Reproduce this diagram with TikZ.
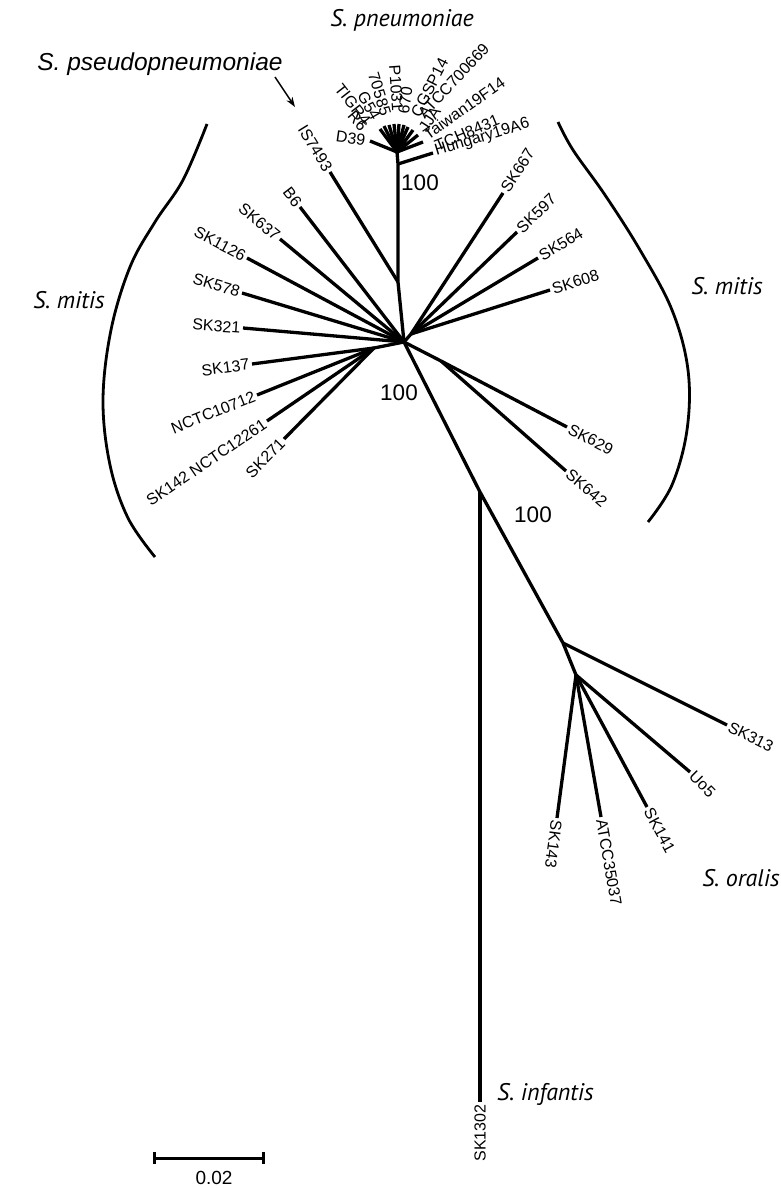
\documentclass[tikz,border=0pt]{standalone}
\usepackage{fontspec}
\setmainfont{Liberation Sans}
\newfontfamily\spfont{PT Sans}
\usetikzlibrary{arrows.meta}
\begin{document}
\begin{tikzpicture}[x=1pt,y=-1pt,
  br/.style={line width=3.3pt, line join=round},
  lab/.style={font=\fontsize{16}{18}\selectfont, inner sep=2.5pt},
  boot/.style={font=\fontsize{22.5}{24}\selectfont, inner sep=0pt},
  sp/.style={font=\spfont\itshape\fontsize{24}{26}\selectfont, inner sep=0pt},
  arcline/.style={line width=2.8pt},
]
\useasboundingbox (0,0) rectangle (781,1188);

% internal nodes
\coordinate (F) at (397,152);
\coordinate (Hj) at (398,164);
\coordinate (I) at (398,282);
\coordinate (H) at (404,342);
\coordinate (R) at (411,334);
\coordinate (L) at (374,348);
\coordinate (N1) at (441,361);
\coordinate (J) at (480,492);
\coordinate (O1) at (563,643);
\coordinate (O2) at (576,675);

\draw[br] (F) -- (Hj) -- (I) -- (H) -- (J) -- (O1) -- (O2);
\draw[br] (H) -- (R);
\draw[br] (H) -- (L);
\draw[br] (H) -- (N1);

% S. pneumoniae fan
\coordinate (f1) at (370,141);
\coordinate (f2) at (380,129);
\coordinate (f3) at (384,126);
\coordinate (f4) at (389,125);
\coordinate (f5) at (394,124);
\coordinate (f6) at (399,124);
\coordinate (f7) at (404,125);
\coordinate (f8) at (408,127);
\coordinate (f9) at (413,130);
\coordinate (f10) at (418,135);
\coordinate (f11) at (423,142);
\coordinate (fH) at (433,153);
\foreach \t in {f1,f2,f3,f4,f5,f6,f7,f8,f9,f10,f11} \draw[br] (F) -- (\t);
\draw[br] (Hj) -- (fH);

\node[lab, anchor=east, rotate=-8] (lD39) at (368,141) {D39};
\node[lab, anchor=east, rotate=-50] (lR6) at (366,131) {R6};
\node[lab, anchor=east, rotate=-52] (lTIGR4) at (369,125) {TIGR4};
\node[lab, anchor=east, rotate=-60] (lG54) at (378,121) {G54};
\node[lab, anchor=east, rotate=-73] (l70585) at (387,118) {70585};
\node[lab, anchor=east, rotate=-86] (lP1031) at (398,114) {P1031};
\node[lab, anchor=west, rotate=82] (l670) at (403,116) {670};
\node[lab, anchor=west, rotate=63] (lCGSP14) at (414,118) {CGSP14};
\node[lab, anchor=west, rotate=47] (lATCC700669) at (419,118) {ATCC700669};
\node[lab, anchor=west, rotate=57] (lJJA) at (421,133) {JJA};
\node[lab, anchor=west, rotate=35] (lTaiwan) at (423,137) {Taiwan19F14};
\node[lab, anchor=west, rotate=23] (lTCH) at (433,147) {TCH8431};
\node[lab, anchor=west, rotate=17] (lHung) at (fH) {Hungary19A6};

% S. pseudopneumoniae
\coordinate (tIS) at (330,172);
\draw[br] (I) -- (tIS);
\node[lab, anchor=east, rotate=-58.3] (lIS) at (tIS) {IS7493};

% S. mitis left
\coordinate (tB6) at (300,207);
\coordinate (tSK637) at (280,239);
\coordinate (tSK1126) at (247,258);
\coordinate (tSK578) at (242,293);
\coordinate (tSK321) at (243,328);
\coordinate (tSK137) at (252,364);
\coordinate (tN10712) at (257,395);
\coordinate (tN12261) at (267,421);
\coordinate (tSK271) at (284,439);
\foreach \t in {tB6,tSK637,tSK1126,tSK578,tSK321} \draw[br] (H) -- (\t);
\foreach \t in {tSK137,tN10712,tN12261,tSK271} \draw[br] (L) -- (\t);
\node[lab, anchor=east, rotate=-52.4] (lB6) at (tB6) {B6};
\node[lab, anchor=east, rotate=-39.7] (lSK637) at (tSK637) {SK637};
\node[lab, anchor=east, rotate=-28.1] (lSK1126) at (tSK1126) {SK1126};
\node[lab, anchor=east, rotate=-16.8] (lSK578) at (tSK578) {SK578};
\node[lab, anchor=east, rotate=-4] (lSK321) at (tSK321) {SK321};
\node[lab, anchor=east, rotate=7.5] (lSK137) at (tSK137) {SK137};
\node[lab, anchor=east, rotate=21.8] (lN10712) at (tN10712) {NCTC10712};
\node[lab, anchor=east, rotate=34.4] (lN12261) at (tN12261) {SK142 NCTC12261};
\node[lab, anchor=east, rotate=45.6] (lSK271) at (tSK271) {SK271};

% S. mitis right
\coordinate (tSK667) at (503,193);
\coordinate (tSK597) at (517,232);
\coordinate (tSK564) at (538,258);
\coordinate (tSK608) at (550,290);
\coordinate (tSK629) at (567,427);
\coordinate (tSK642) at (566,471);
\foreach \t in {tSK667,tSK597,tSK564,tSK608} \draw[br] (R) -- (\t);
\draw[br] (N1) -- (tSK629);
\draw[br] (N1) -- (tSK642);
\node[lab, anchor=west, rotate=56.9] (lSK667) at (tSK667) {SK667};
\node[lab, anchor=west, rotate=43.9] (lSK597) at (tSK597) {SK597};
\node[lab, anchor=west, rotate=30.9] (lSK564) at (tSK564) {SK564};
\node[lab, anchor=west, rotate=17.6] (lSK608) at (tSK608) {SK608};
\node[lab, anchor=west, rotate=-27.5] (lSK629) at (tSK629) {SK629};
\node[lab, anchor=west, rotate=-40] (lSK642) at (tSK642) {SK642};

% S. oralis
\coordinate (tSK313) at (727,725);
\coordinate (tUo5) at (690,772);
\coordinate (tSK141) at (647,807);
\coordinate (tATCC35037) at (601,817);
\coordinate (tSK143) at (557,818);
\draw[br] (O1) -- (tSK313);
\foreach \t in {tUo5,tSK141,tATCC35037,tSK143} \draw[br] (O2) -- (\t);
\node[lab, anchor=west, rotate=-26.6] (lSK313) at (tSK313) {SK313};
\node[lab, anchor=west, rotate=-45] (lUo5) at (tUo5) {Uo5};
\node[lab, anchor=west, rotate=-61.7] (lSK141) at (tSK141) {SK141};
\node[lab, anchor=west, rotate=-80] (lATCC35037) at (tATCC35037) {ATCC35037};
\node[lab, anchor=west, rotate=-97.6] (lSK143) at (tSK143) {SK143};

% S. infantis
\coordinate (tSK1302) at (480,1102);
\draw[br] (J) -- (tSK1302);
\node[lab, anchor=east, rotate=90] (lSK1302) at (tSK1302) {SK1302};

% bootstrap values
\node[boot] (b1) at (420,183) {100};
\node[boot] (b2) at (399,393) {100};
\node[boot] (b3) at (533,515) {100};

% brackets
\draw[arcline] plot[smooth, tension=0.6] coordinates {(207,124) (183,180) (155,222) (130,267) (111,330) (103,400) (110,465) (128,518) (155,557)};
\draw[arcline] plot[smooth, tension=0.6] coordinates {(558,122) (573,150) (605,195) (640,250) (672,310) (688,370) (687,430) (672,485) (648,522)};

% species names
\node[sp] (spPn) at (402,20) {S. pneumoniae};
\node[font=\itshape\fontsize{24.5}{26}\selectfont, inner sep=0pt] (spPs) at (160,64) {S. pseudopneumoniae};
\node[sp] (spMl) at (69,300) {S. mitis};
\node[sp] (spMr) at (727,286) {S. mitis};
\node[sp] (spOr) at (741,878) {S. oralis};
\node[sp, anchor=west] (spIn) at (497,1094) {S. infantis};

\coordinate (aS) at (275,77);
\coordinate (aE) at (295,107);
\draw[line width=1.5pt, -{Stealth[length=10pt,width=7pt]}] (aS) -- (aE);

% scale bar
\coordinate (sb1) at (154,1158);
\coordinate (sb2) at (263,1158);
\draw[line width=3pt] (sb1) -- (sb2);
\draw[line width=3pt] ([yshift=6pt]sb1) -- ([yshift=-6pt]sb1);
\draw[line width=3pt] ([yshift=6pt]sb2) -- ([yshift=-6pt]sb2);
\node[font=\fontsize{19}{21}\selectfont, inner sep=0pt] (sbl) at (214,1178) {0.02};
\end{tikzpicture}
\end{document}
